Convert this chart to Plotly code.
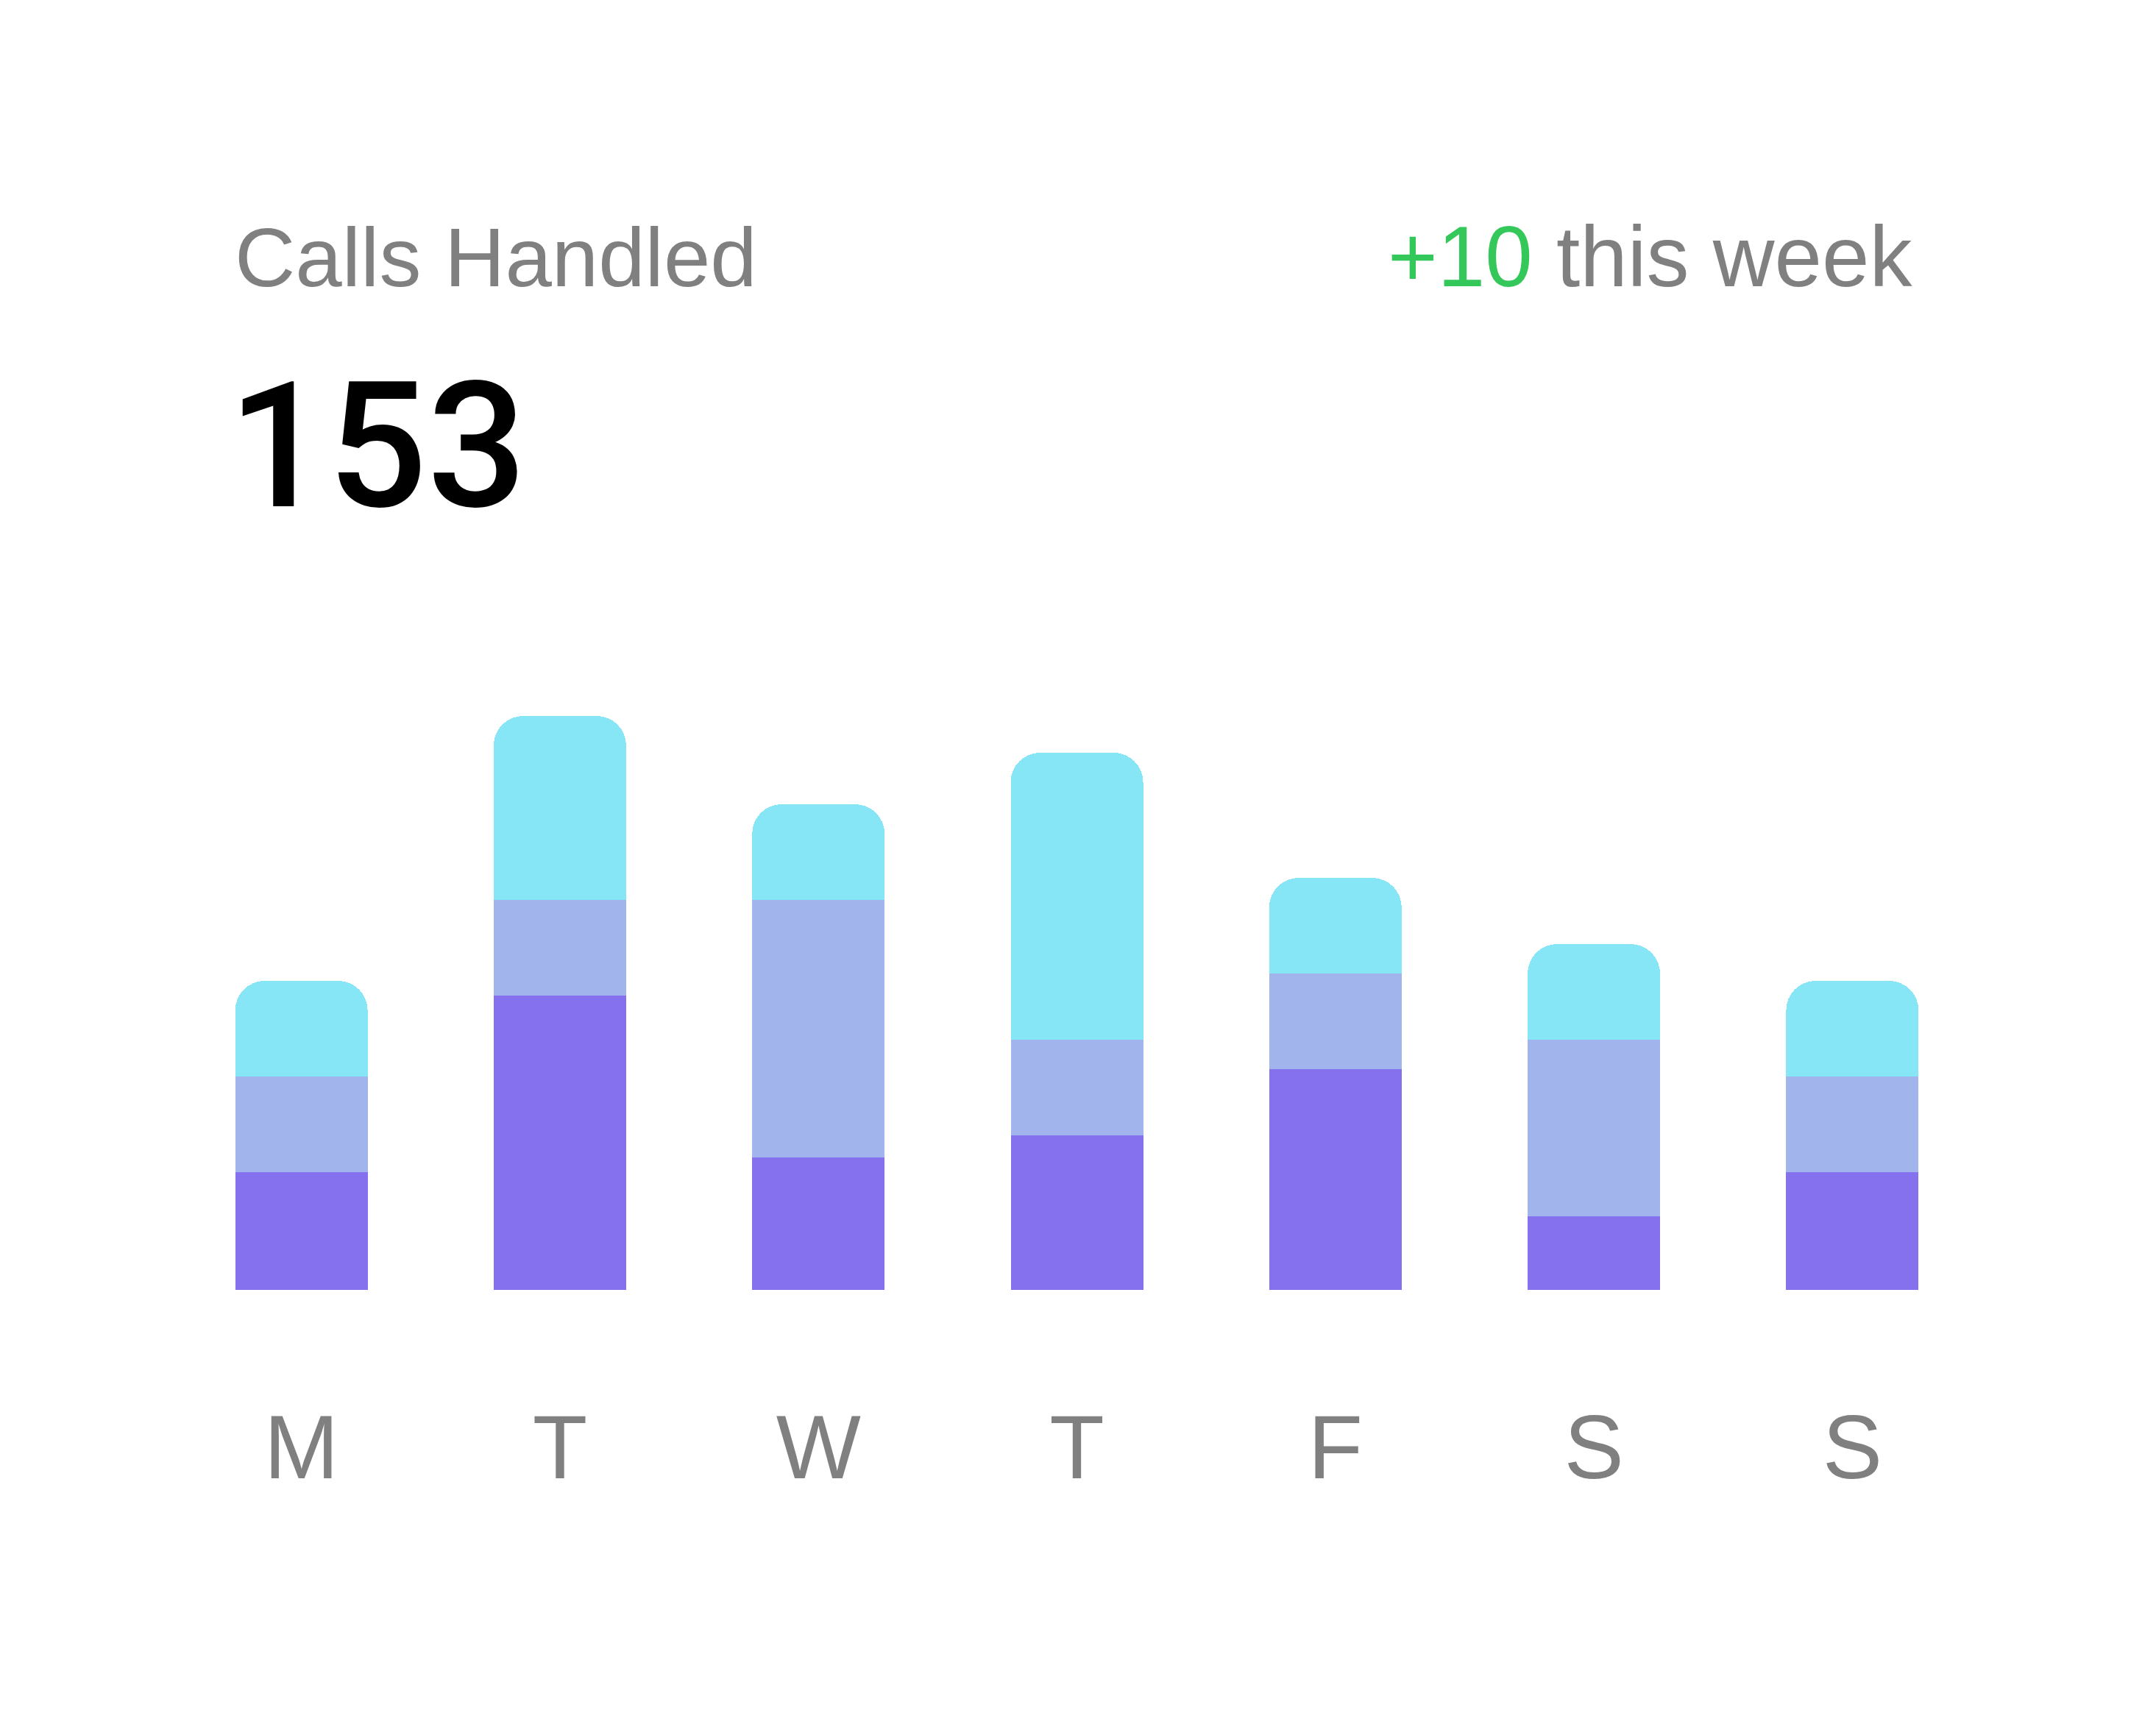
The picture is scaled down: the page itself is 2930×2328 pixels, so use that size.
import plotly.graph_objects as go

# ---- data ----
days = ["M", "T", "W", "T", "F", "S", "S"]
base_calls = [16, 40, 18, 21, 30, 10, 16]     # dark purple (bottom)
mid_calls = [13, 13, 35, 13, 13, 24, 13]      # periwinkle (middle)
top_calls = [13, 25, 13, 39, 13, 13, 13]      # cyan (top)
total_label = "153"
delta_label = "+10"

# ---- styles ----
OFF = 8  # page body margin
W, H = 2930, 2328
ML, MR, MT, MB = 234 - OFF, 237 + OFF, 953 - OFF, 575 + OFF
C_DARK = "#8570ED"
C_MID = "#A2B4EC"
C_TOP = "#86E6F6"
GREY = "#808080"
GREEN = "#34C759"
FONT = "Liberation Sans, Arial, Helvetica, sans-serif"
NUMFONT = "Roboto, Liberation Sans, sans-serif"

x = list(range(len(days)))

fig = go.Figure()
for vals, col, name in [(base_calls, C_DARK, "a"), (mid_calls, C_MID, "b"), (top_calls, C_TOP, "c")]:
    fig.add_trace(go.Bar(x=x, y=vals, marker=dict(color=col, line=dict(width=0)), name=name,
                         hoverinfo="skip"))

pw = W - ML - MR
ph = H - MT - MB


def px_to_paper_x(px):
    return (px - OFF - ML) / pw


def px_to_paper_y(py):
    return (H - MB - (py - OFF)) / ph


fig.update_layout(
    width=W, height=H,
    margin=dict(l=ML, r=MR, t=MT, b=MB, pad=0),
    barmode="stack",
    bargap=0.4876,
    barcornerradius=40,
    showlegend=False,
    paper_bgcolor="white",
    plot_bgcolor="white",
    font=dict(family=FONT, color=GREY),
    xaxis=dict(
        tickmode="array", tickvals=x, ticktext=days,
        range=[-0.5, len(days) - 0.5],
        showgrid=False, zeroline=False, showline=False, ticks="",
        tickfont=dict(size=122, color=GREY, family=FONT),
        ticklabelstandoff=133,
        fixedrange=True,
    ),
    yaxis=dict(range=[0, 80], visible=False, fixedrange=True),
    annotations=[
        dict(text="Calls Handled", xref="paper", yref="paper",
             x=px_to_paper_x(317), y=px_to_paper_y(349), xanchor="left", yanchor="middle",
             showarrow=False, font=dict(size=114, color=GREY, family=FONT)),
        dict(text=total_label, xref="paper", yref="paper",
             x=px_to_paper_x(308), y=px_to_paper_y(607), xanchor="left", yanchor="middle",
             showarrow=False, font=dict(size=238, color="black", family=NUMFONT, weight=500)),
        dict(text=f'<span style="color:{GREEN}">{delta_label}</span> this week', xref="paper", yref="paper",
             x=px_to_paper_x(2602), y=px_to_paper_y(349), xanchor="right", yanchor="middle",
             showarrow=False, font=dict(size=116, color=GREY, family=FONT)),
    ],
)

fig.write_html("out.html", config={"displayModeBar": False})
